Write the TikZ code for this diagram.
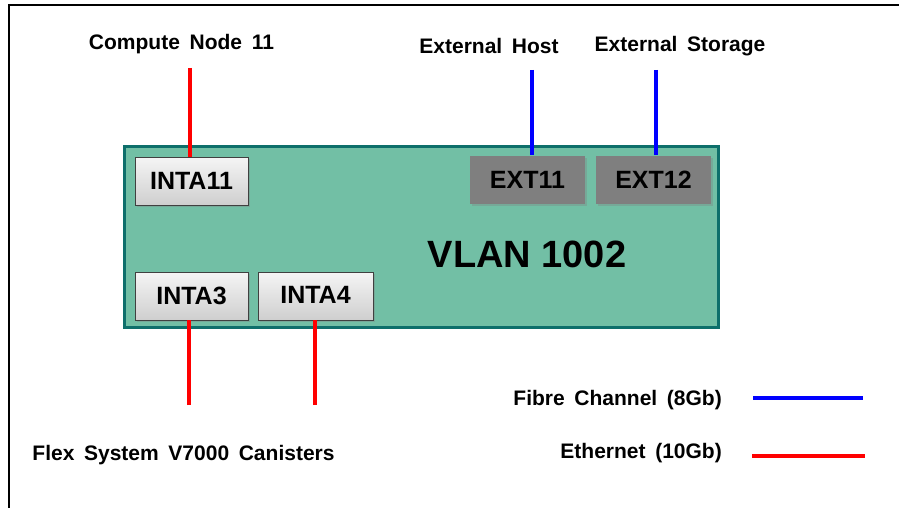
\documentclass[tikz,border=0pt]{standalone}
\usepackage{fontspec}
\setmainfont{Liberation Sans}
\usetikzlibrary{shadows}
\definecolor{vlangreen}{HTML}{72BFA5}
\definecolor{vlanedge}{HTML}{0E6F6B}
\definecolor{extgray}{HTML}{7F7F7F}
\definecolor{fcblue}{HTML}{0000FF}
\definecolor{ethred}{HTML}{FF0000}
\newcommand\mylblfont{\fontsize{21}{24}\selectfont\bfseries\spaceskip=0.46em plus 0pt minus 0pt\relax}
\begin{document}
\begin{tikzpicture}[x=1pt,y=-1pt,
  lbl/.style={font=\mylblfont, inner sep=0},
  port/.style={minimum height=48pt, inner sep=0, font=\fontsize{25}{27}\selectfont\bfseries,
    drop shadow={shadow xshift=2pt,shadow yshift=-2pt,opacity=0.35}},
  intport/.style={port, draw=black!75, line width=0.8pt, top color=gray!8, bottom color=gray!38},
  extport/.style={port, fill=extgray},
  fc/.style={draw=fcblue, line width=3.8pt},
  eth/.style={draw=ethred, line width=3.8pt}]
\useasboundingbox (0,0) rectangle (899,508);
\fill[white] (0,0) rectangle (899,508);
% frame
\draw[line width=1.5pt] (9,508) -- (9,5) -- (899,5);
% VLAN box
\node[draw=vlanedge, line width=2.2pt, fill=vlangreen, minimum width=594pt, minimum height=181pt, inner sep=0] (vlan) at (421.5,237) {};
\node[font=\fontsize{38}{40}\selectfont\bfseries, inner sep=0] (vlantxt) at (527,254) {VLAN 1002};
% ports
\node[intport, minimum width=113pt] (inta11) at (191.5,181) {INTA11};
\node[intport, minimum width=113pt] (inta3) at (191.5,296) {INTA3};
\node[intport, minimum width=115pt] (inta4) at (315.5,296) {\raisebox{3pt}{INTA4}};
\node[extport, minimum width=115pt] (ext11) at (527.5,179.5) {\raisebox{-3pt}{EXT11}};
\node[extport, minimum width=115pt] (ext12) at (653.5,179.5) {EXT12};
% labels
\node[lbl] (cn) at (181.5,44) {Compute Node 11};
\node[lbl] (eh) at (489,46) {External Host};
\node[lbl] (es) at (680,46) {External Storage};
\node[lbl] (flex) at (183.5,455) {Flex System V7000 Canisters};
\node[lbl, anchor=east] (fclbl) at (722,400) {Fibre Channel (8Gb)};
\node[lbl, anchor=east] (ethlbl) at (722,453) {Ethernet (10Gb)};
% connector ends
\coordinate (cnend) at (190,68);
\coordinate (ehend) at (532,70);
\coordinate (esend) at (656,70);
\coordinate (i3end) at (189,405);
\coordinate (i4end) at (315,405);
\coordinate (fcA) at (753,398);
\coordinate (fcB) at (863,398);
\coordinate (ethA) at (752,456);
\coordinate (ethB) at (865,456);
% connectors
\draw[eth] (cnend) -- (cnend |- inta11.north);
\draw[fc] (ehend) -- (ehend |- ext11.north);
\draw[fc] (esend) -- (esend |- ext12.north);
\draw[eth] (i3end) -- (i3end |- inta3.south);
\draw[eth] (i4end) -- (i4end |- inta4.south);
% legend
\draw[fc] (fcA) -- (fcB);
\draw[eth] (ethA) -- (ethB);
\end{tikzpicture}
\end{document}
